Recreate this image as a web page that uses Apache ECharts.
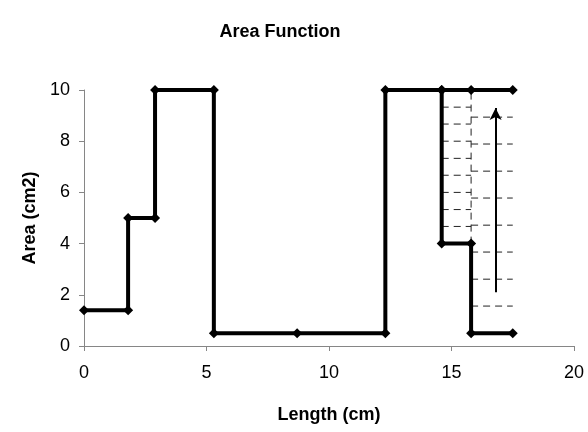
<!DOCTYPE html>
<html>
<head>
<meta charset="utf-8">
<script src="https://cdn.jsdelivr.net/npm/echarts@6/dist/echarts.min.js"></script>
<style>
  html, body { margin: 0; padding: 0; background: #fff; }
  #chart { width: 588px; height: 432px; }
</style>
</head>
<body>
<div id="chart"></div>
<script>
// main step path (x, y)
var mainX = [0, 1.8, 1.8, 2.9, 2.9, 5.3, 5.3, 8.7, 12.3, 12.3, 14.6, 15.8, 17.5];
var mainY = [1.4, 1.4, 5, 5, 10, 10, 0.5, 0.5, 0.5, 10, 10, 10, 10];
// lower branch on the right
var branchX = [14.6, 14.6, 15.8, 15.8, 17.5];
var branchY = [10, 4, 4, 0.5, 0.5];
// dashed guide lines
var guideX = [15.8, 15.8];
var guideY = [4, 10];
var leftLevels = [4.67, 5.33, 6, 6.67, 7.33, 8, 8.67, 9.33];
var leftSpan = [14.6, 15.8];
var rightLevels = [1.56, 2.61, 3.67, 4.72, 5.78, 6.83, 7.89, 8.94];
var rightSpan = [15.8, 17.5];
// arrow
var arrowX = 16.8;
var arrowY = [2.1, 9.3];

var xTicks = [0, 5, 10, 15, 20];
var yTicks = [0, 2, 4, 6, 8, 10];

function pairs(xs, ys) {
  return xs.map(function (x, i) { return [x, ys[i]]; });
}

var dashStyle = { color: "#222", width: 1, type: [7, 5] };
var series = [];

rightLevels.forEach(function (v) {
  series.push({
    type: "line", symbol: "none", silent: true,
    data: [[rightSpan[0], v], [rightSpan[1], v]],
    lineStyle: dashStyle
  });
});
leftLevels.forEach(function (v) {
  series.push({
    type: "line", symbol: "none", silent: true,
    data: [[leftSpan[0], v], [leftSpan[1], v]],
    lineStyle: dashStyle
  });
});
series.push({
  type: "line", symbol: "none", silent: true,
  data: pairs(guideX, guideY),
  lineStyle: dashStyle
});

// arrow
series.push({
  type: "line", symbol: "none", silent: true, data: [],
  markLine: {
    silent: true,
    symbol: ["none", "arrow"],
    symbolSize: [9, 12],
    label: { show: false },
    lineStyle: { color: "#000", width: 2, type: "solid" },
    data: [[{ coord: [arrowX, arrowY[0]] }, { coord: [arrowX, arrowY[1]] }]]
  }
});

var markStyle = {
  symbol: "diamond",
  symbolSize: 10,
  itemStyle: { color: "#000" },
  lineStyle: { color: "#000", width: 4 }
};
series.push(Object.assign({ type: "line", data: pairs(mainX, mainY) }, markStyle));
series.push(Object.assign({ type: "line", data: pairs(branchX, branchY) }, markStyle));

var chart = echarts.init(document.getElementById("chart"));
chart.setOption({
  animation: false,
  backgroundColor: "#fff",
  title: {
    text: "Area Function",
    left: 275,
    top: 18,
    textAlign: "center",
    textStyle: { fontFamily: "Liberation Sans", fontSize: 18, fontWeight: "bold", color: "#000" }
  },
  grid: { left: 84, right: 14, top: 90, bottom: 86 },
  xAxis: {
    type: "value",
    min: xTicks[0], max: xTicks[xTicks.length - 1], interval: 5,
    name: "Length (cm)",
    nameLocation: "middle",
    nameGap: 60,
    nameTextStyle: { fontFamily: "Liberation Sans", fontSize: 18, fontWeight: "bold", color: "#000" },
    axisLine: { lineStyle: { color: "#868686", width: 1 } },
    axisTick: { show: true, length: 5, inside: false, lineStyle: { color: "#868686" } },
    axisLabel: { fontFamily: "Liberation Sans", fontSize: 18, color: "#000", margin: 18 },
    splitLine: { show: false }
  },
  yAxis: {
    type: "value",
    min: yTicks[0], max: yTicks[yTicks.length - 1], interval: 2,
    name: "Area (cm2)",
    nameLocation: "middle",
    nameGap: 44,
    nameTextStyle: { fontFamily: "Liberation Sans", fontSize: 18, fontWeight: "bold", color: "#000" },
    axisLine: { show: true, lineStyle: { color: "#868686", width: 1 } },
    axisTick: { show: true, length: 5, inside: false, lineStyle: { color: "#868686" } },
    axisLabel: { fontFamily: "Liberation Sans", fontSize: 18, color: "#000", margin: 14 },
    splitLine: { show: false }
  },
  series: series
});
</script>
</body>
</html>
